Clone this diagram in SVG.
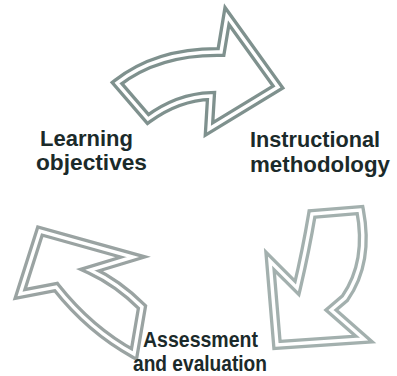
<svg xmlns="http://www.w3.org/2000/svg" width="397" height="376" viewBox="0 0 397 376">
  <style>
    .edge { fill: none; stroke-linejoin: miter; stroke-miterlimit: 6; }
    .outer { stroke-width: 10; }
    .gap { stroke: #ffffff; stroke-width: 3.4; }
    .a1 { stroke: #7f918e; }
    .a2 { stroke: #a3b0ae; }
    .a3 { stroke: #9aa3a2; }
    .label { font-family: "Liberation Sans", Arial, sans-serif; font-size: 22.5px; font-weight: bold; fill: #1b2a2a; }
  </style>
  <defs>
    <!-- curved block arrows, each drawn as a double outline -->
    <path id="shape-top" d="M117,83 Q158,51 221,52 L227,16 L278,87 L209,129 L211,96 Q178,97 148,119 Z"/>
    <path id="shape-right" d="M312,214 L360,210 Q370,262 345,298 L331,310 L364,339 L277,345 L270,261 L297,288 Q306,250 312,214 Z"/>
    <path id="shape-left" d="M142,307 Q118,283 90,270 L133,257 L40,231 L20,294 L56,287 Q90,330 134,354 Z"/>
  </defs>

  <g id="connectors">
    <g id="arrow-top">
      <use href="#shape-top" class="edge outer a1"/>
      <use href="#shape-top" class="edge gap"/>
    </g>
    <g id="arrow-right">
      <use href="#shape-right" class="edge outer a2"/>
      <use href="#shape-right" class="edge gap"/>
    </g>
    <g id="arrow-left">
      <use href="#shape-left" class="edge outer a3"/>
      <use href="#shape-left" class="edge gap"/>
    </g>
  </g>

  <g id="node-learning">
    <text class="label" x="40" y="146" textLength="93" lengthAdjust="spacingAndGlyphs">Learning</text>
    <text class="label" x="36" y="170" textLength="111" lengthAdjust="spacingAndGlyphs">objectives</text>
  </g>
  <g id="node-instruction">
    <text class="label" x="250" y="147" textLength="130" lengthAdjust="spacingAndGlyphs">Instructional</text>
    <text class="label" x="250" y="172" textLength="140" lengthAdjust="spacingAndGlyphs">methodology</text>
  </g>
  <g id="node-assessment">
    <text class="label" x="143" y="347" textLength="115" lengthAdjust="spacingAndGlyphs">Assessment</text>
    <text class="label" x="133" y="371" textLength="134" lengthAdjust="spacingAndGlyphs">and evaluation</text>
  </g>
</svg>
